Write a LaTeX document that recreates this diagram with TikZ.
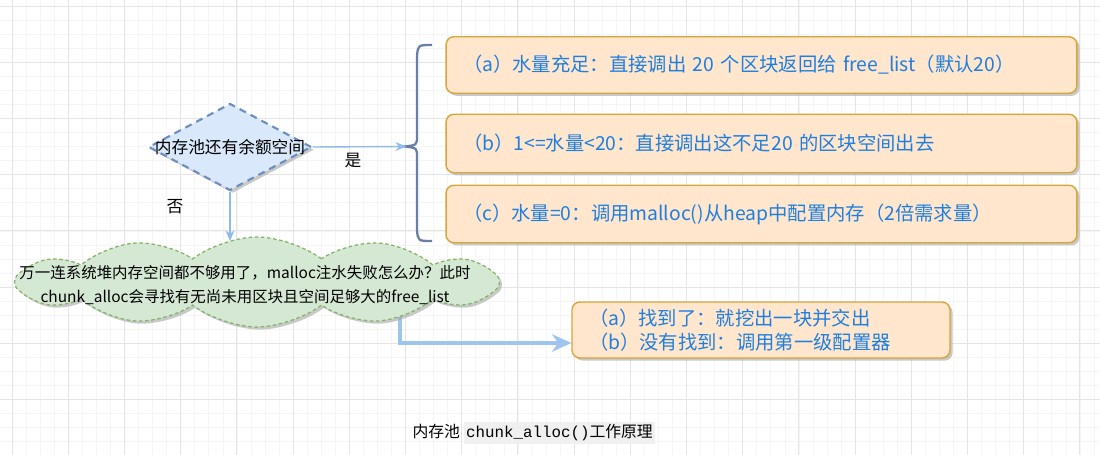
\documentclass[tikz,border=0pt]{standalone}
\usepackage{fontspec}
\setmainfont{Noto Sans CJK SC}
\setmonofont{Liberation Mono}
\usetikzlibrary{arrows.meta,shapes.geometric,shapes.symbols,shadows}
\definecolor{boxfill}{HTML}{FFE6CC}
\definecolor{boxline}{HTML}{D9A53A}
\definecolor{boxtext}{HTML}{1E7FE0}
\definecolor{askfill}{HTML}{DAE8FC}
\definecolor{askline}{HTML}{6C8EBF}
\definecolor{poolfill}{HTML}{D5E8D4}
\definecolor{poolline}{HTML}{82B366}
\definecolor{flowcol}{HTML}{8DBBEE}
\definecolor{bracecol}{HTML}{6A7FA8}
\definecolor{capbg}{HTML}{F0F0F0}
\begin{document}
\begin{tikzpicture}[x=0.02cm,y=-0.02cm,
  gridminor/.style={black!4,line width=.3pt},
  gridmajor/.style={black!10,line width=.4pt},
  shade/.style={drop shadow={shadow xshift=1.5pt,shadow yshift=-1.5pt,fill=black!35,opacity=.6}},
  pick/.style={rectangle,rounded corners=4.5pt,draw=boxline,fill=boxfill,line width=.8pt,
    text=boxtext,font=\fontsize{11}{14}\selectfont,align=left,inner xsep=.34cm,inner ysep=0pt,shade},
  ask/.style={diamond,draw=askline,fill=askfill,line width=1.2pt,dash pattern=on 4pt off 3pt,
    inner sep=0pt,shade},
  pool/.style={cloud,cloud puffs=12,cloud puff arc=75,cloud ignores aspect,draw=poolline,
    fill=poolfill,line width=.7pt,dash pattern=on 2pt off 1.5pt,shade},
  flow/.style={flowcol,line width=.8pt,-{Stealth[length=6pt,width=5pt]}},
  flowbig/.style={flowcol!85,line width=2pt,-{Stealth[length=11pt,width=10pt]}},
  brace/.style={bracecol,line width=1.3pt},
  word/.style={font=\fontsize{9.5}{12}\selectfont}]
\useasboundingbox (0,0) rectangle (1100,455);
\fill[white] (0,0) rectangle (1100,455);
% grid
\foreach \g in {0,...,78} {\draw[gridminor] ({-2+14.05*\g},0) -- ++(0,455);}
\foreach \g in {0,...,32} {\draw[gridminor] (0,{6+14.05*\g}) -- ++(1100,0);}
\foreach \g in {0,...,19} {\draw[gridmajor] ({12+56.2*\g},0) -- ++(0,455);}
\foreach \g in {0,...,8} {\draw[gridmajor] (0,{6+56.2*\g}) -- ++(1100,0);}

% three cases
\node[pick,text width=11.94cm,minimum height=1.13cm] (fillA) at (761.5,65) {（a）水量充足：直接调出 20 个区块返回给 free\_list（默认20）};
\node[pick,text width=11.94cm,minimum height=1.17cm] (fillB) at (761.5,143.5) {（b）1<=水量<20：直接调出这不足20 的区块空间出去};
\node[pick,text width=11.94cm,minimum height=1.15cm] (fillC) at (761.5,214) {（c）水量=0：调用malloc()从heap中配置内存（2倍需求量）};
\draw[brace] (432,45) .. controls (418,45) .. (417,56) -- (417,136)
  .. controls (417,145) .. (405,146.5) .. controls (417,148) .. (417,157)
  -- (417,230) .. controls (418,241) .. (432,241);
\coordinate (bracetip) at (406,146.5);

% decision
\node[ask,minimum width=3.26cm,minimum height=1.74cm,
  label={[word]center:内存池还有余额空间}] (check) at (230,147) {};
\draw[flow] (check.east) -- (bracetip);
\node[word] (yes) at (353,161) {是};
\node[word] (no) at (175,207) {否};

% fallback
\coordinate (poolout) at (400,312);
\node[pick,text width=6.88cm,minimum height=1.12cm] (found) at (761,330) {（a）找到了：就挖出一块并交出\\（b）没有找到：调用第一级配置器};
\draw[flowbig] (poolout) |- ([yshift=-.26cm]found.west);
\node[pool,minimum width=9.7cm,minimum height=1.8cm] (pool) at (257,282) {};
\node[font=\fontsize{8.8}{13.6}\selectfont,align=center] (poolnote) at (245,285)
  {万一连系统堆内存空间都不够用了，malloc注水失败怎么办？此时\\chunk\_alloc会寻找有无尚未用区块且空间足够大的free\_list};
\coordinate (pooltop) at (230,241);
\draw[flow] (check.south) -- (pooltop);

% caption
\node[font=\fontsize{9}{11}\selectfont] (caption) at (534,433)
  {内存池 {\setlength{\fboxsep}{1.5pt}\colorbox{capbg}{\texttt{chunk\_alloc()}工作原理}}};
\end{tikzpicture}
\end{document}
